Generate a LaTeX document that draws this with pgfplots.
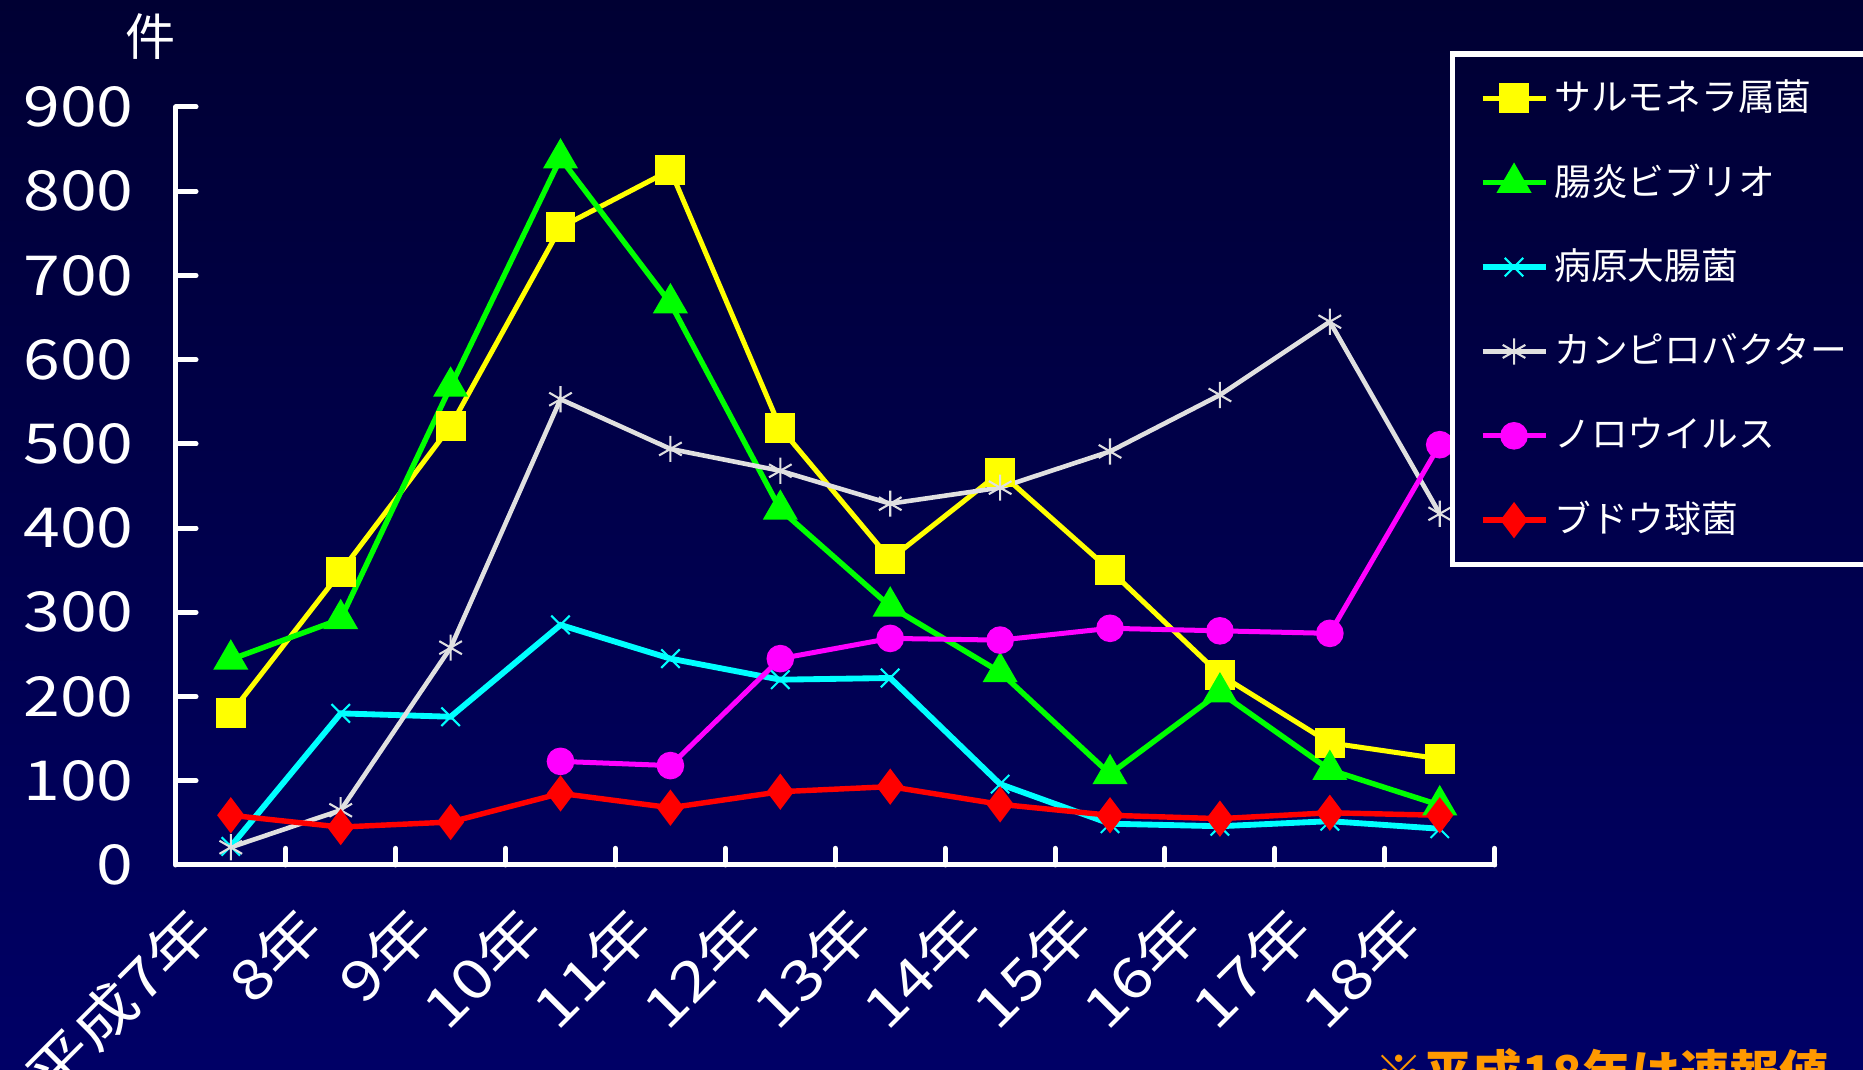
\documentclass[border=0pt]{standalone}
\usepackage{pgfplots}
\pgfplotsset{compat=1.18}
\usepackage{fontspec}
\setmainfont{Noto Sans CJK JP}
\newfontfamily\tickfont[FakeStretch=1.2]{Noto Sans CJK JP}
\definecolor{bgtop}{RGB}{0,0,51}
\definecolor{bgbot}{RGB}{0,0,102}
\definecolor{csalm}{RGB}{255,255,0}
\definecolor{cvib}{RGB}{0,255,0}
\definecolor{ccoli}{RGB}{0,255,255}
\definecolor{ccamp}{RGB}{224,224,224}
\definecolor{cnoro}{RGB}{255,0,255}
\definecolor{cstaph}{RGB}{255,0,0}
\definecolor{cnote}{RGB}{255,153,0}

\pgfplotstableread{
x y
0 180
1 348
2 521
3 757
4 825
5 519
6 363
7 466
8 350
9 226
10 145
11 126
}\salm
\pgfplotstableread{
x y
0 244
1 292
2 568
3 839
4 667
5 422
6 307
7 229
8 108
9 205
10 113
11 71
}\vib
\pgfplotstableread{
x y
0 22
1 180
2 176
3 285
4 245
5 220
6 222
7 96
8 49
9 46
10 52
11 43
}\coli
\pgfplotstableread{
x y
0 21
1 65
2 258
3 553
4 494
5 468
6 429
7 448
8 491
9 558
10 645
11 417
}\camp
\pgfplotstableread{
x y
3 123
4 118
5 245
6 269
7 267
8 281
9 278
10 275
11 499
}\noro
\pgfplotstableread{
x y
0 59
1 45
2 51
3 85
4 68
5 87
6 93
7 72
8 59
9 55
10 62
11 59
}\staph

\begin{document}
\begin{tikzpicture}
\shade[top color=bgtop, bottom color=bgbot] (0,0) rectangle (156.8mm,90mm);
\begin{axis}[
  at={(14.8mm,17.2mm)}, anchor=south west,
  scale only axis, width=111mm, height=63.8mm,
  xmin=-0.5, xmax=11.5, ymin=0, ymax=900,
  enlargelimits=false, clip=false,
  axis lines=left,
  axis line style={white, line width=1.2pt, -, line cap=round},
  tick align=inside,
  xtick={0,...,11},
  xticklabels={平成7年,8年,9年,10年,11年,12年,13年,14年,15年,16年,17年,18年},
  minor xtick={0.5,1.5,...,11.5},
  ytick={0,100,...,900},
  major tick length=1.7mm,
  minor tick length=1.4mm,
  major x tick style={draw=none},
  minor x tick style={white, line width=1.2pt, line cap=round},
  ytick style={white, line width=1.2pt, line cap=round},
  /pgf/number format/assume math mode=true,
  tick label style={text=white, font=\tickfont\fontsize{13.2}{14}\selectfont, inner sep=0pt},
  yticklabel style={anchor=east, xshift=-3.5mm},
  xticklabel style={anchor=east, xshift=-2.4mm, yshift=-4.5mm, rotate=45},
  legend style={
    at={(axis description cs:0.9658,1.0737)}, anchor=north west,
    draw=white, line width=1.3pt, fill=none, text=white,
    font=\fontsize{8.8}{9}\selectfont,
    inner xsep=2.3mm, inner ysep=0.2mm,
    column sep=0.5mm, row sep=0pt,
    nodes={inner sep=0pt, minimum height=7.1mm},
    cells={anchor=west},
  },
  legend image code/.code={
    \draw[mark repeat=2,mark phase=2] plot coordinates {(0mm,0mm) (2.65mm,0mm) (5.3mm,0mm)};
  },
]
\addplot[csalm, line width=1.2pt, mark=square*, mark size=1.05mm, mark options={solid, fill=csalm}] table {\salm};
\addlegendentry{\makebox[27mm][l]{サルモネラ属菌}}
\addplot[cvib, line width=1.3pt, mark=triangle*, mark size=1.25mm, mark options={solid, fill=cvib}] table {\vib};
\addlegendentry{\makebox[27mm][l]{腸炎ビブリオ}}
\addplot[ccoli, line width=1.4pt, mark=x, mark size=1.1mm, mark options={solid, line width=0.5pt}] table {\coli};
\addlegendentry{\makebox[27mm][l]{病原大腸菌}}
\addplot[ccamp, line width=1.1pt, mark=asterisk, mark size=1.1mm, mark options={solid, line width=0.5pt}] table {\camp};
\addlegendentry{\makebox[27mm][l]{カンピロバクター}}
\addplot[cnoro, line width=1.2pt, mark=*, mark size=0.95mm, mark options={solid, fill=cnoro}] table {\noro};
\addlegendentry{\makebox[27mm][l]{ノロウイルス}}
\addplot[cstaph, line width=1.3pt, mark=diamond*, mark size=1.15mm, mark options={solid, fill=cstaph}] table {\staph};
\addlegendentry{\makebox[27mm][l]{ブドウ球菌}}
\end{axis}
\node[text=white, font=\fontsize{12}{12}\selectfont] at (12.7mm,86.9mm) {件};
\node[anchor=west, inner sep=0pt, text=cnote, font=\bfseries\fontsize{11.8}{12}\selectfont] at (115.6mm,-0.3mm) {※平成18年は速報値};
\pgfresetboundingbox
\useasboundingbox (0,0) rectangle (156.8mm,90mm);
\end{tikzpicture}
\end{document}
